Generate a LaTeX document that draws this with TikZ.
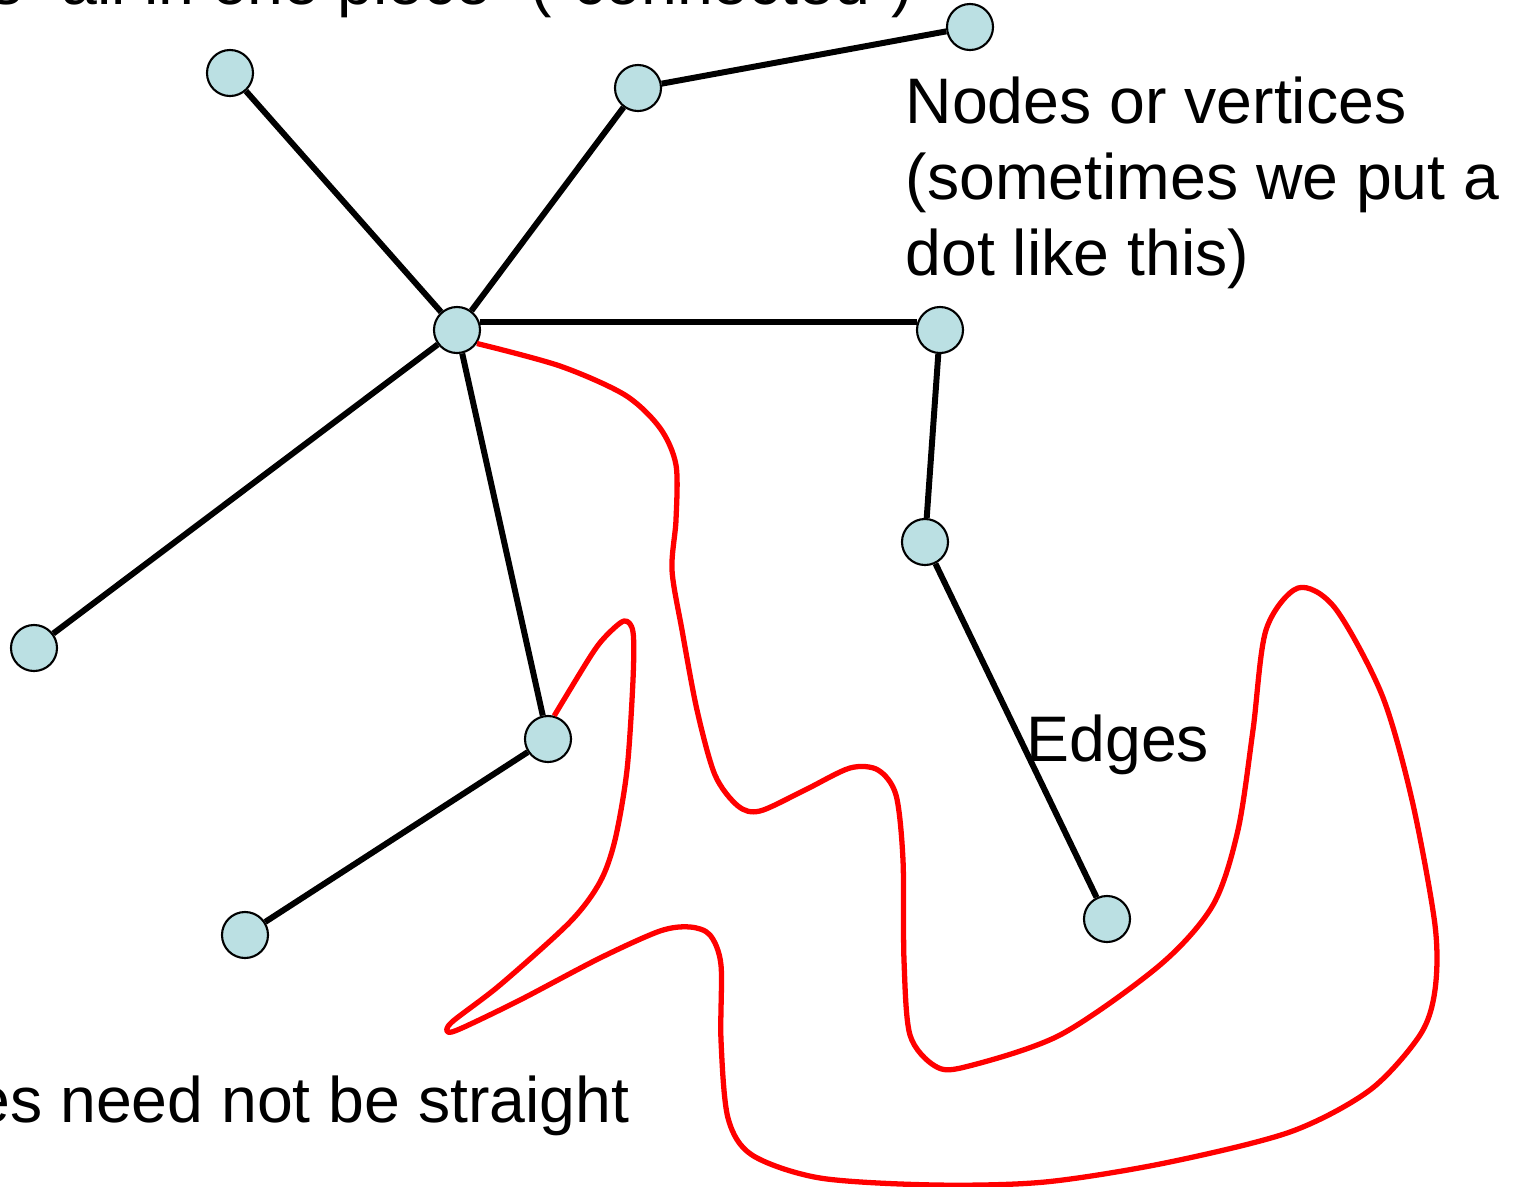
\documentclass[tikz,border=0pt]{standalone}
\usepackage{fontspec}
\setmainfont{Liberation Sans}
\usepackage{tikz}
\usetikzlibrary{positioning}
\usepackage{xcolor}
\definecolor{vertexblue}{HTML}{BBE0E3}
\definecolor{curvered}{HTML}{FF0000}

\begin{document}
\begin{tikzpicture}[
    x=0.01cm, y=-0.01cm,
    vertex/.style={circle, draw, fill=vertexblue, minimum size=0.46cm, inner sep=0pt, line width=0.6pt},
    edge/.style={line width=1.7pt},
    curvy/.style={line width=1.5pt, curvered, line join=round},
    lbl/.style={inner sep=0pt, font=\fontsize{18.3}{21.6}\selectfont}
]
\useasboundingbox (0,0) rectangle (1517,1187);
\clip (0,0) rectangle (1517,1187);

% Vertices
\node[vertex] (hub) at (457,330) {};
\node[vertex] (tl) at (230,73) {};
\node[vertex] (tm) at (638,88) {};
\node[vertex] (tr) at (970,27) {};
\node[vertex] (mr) at (940,330) {};
\node[vertex] (rr) at (925,542) {};
\node[vertex] (ll) at (34,648) {};
\node[vertex] (bm) at (548,739) {};
\node[vertex] (bl) at (245,935) {};
\node[vertex] (br) at (1107,919) {};

% Straight edges
\draw[edge] (hub) -- (tl);
\draw[edge] (hub) -- (tm);
\draw[edge] (tm) -- (tr);
\draw[edge] (hub.19) -- (mr.161);
\draw[edge] (mr) -- (rr);
\draw[edge] (rr) -- (br);
\draw[edge] (hub) -- (ll);
\draw[edge] (hub) -- (bm);
\draw[edge] (bm) -- (bl);

% The curvy edge
\draw[curvy] plot[smooth, tension=0.5] coordinates {
    (hub.-34) (560,366) (625,395) (660,428) (676,465) (676,520) (672,570)
    (682,630) (697,710) (715,775) (738,806) (760,811) (805,790) (850,768)
    (878,770) (896,795) (903,860) (904,960) (910,1035) (935,1066) (965,1067)
    (1060,1035) (1160,965) (1213,905) (1238,830) (1253,730) (1266,630)
    (1298,588) (1335,608) (1382,695) (1412,800) (1435,925) (1435,990)
    (1420,1035) (1370,1090) (1290,1132) (1165,1163) (1045,1182) (935,1185)
    (820,1178) (752,1155) (728,1118) (721,1040) (721,965) (710,935)
    (690,927) (660,931) (600,958) (520,1000) (462,1028) (448,1032)
    (452,1022) (500,985) (570,922) (600,882) (615,840) (627,770) (633,680)
    (633,632) (624,621) (605,637) (590,657) (bm.75)};

% Labels
\node[lbl, anchor=base east] (conn) at (914,4) {is ``all in one piece'' (``connected'')};
\node[lbl, anchor=north west, align=left] (nodes) at (905,76) {Nodes or vertices\\(sometimes we put a\\dot like this)};
\node[lbl, anchor=base west] (edges) at (1026,761) {Edges};
\node[lbl, anchor=base east] (straight) at (630,1122) {Edges need not be straight};

\end{tikzpicture}
\end{document}
